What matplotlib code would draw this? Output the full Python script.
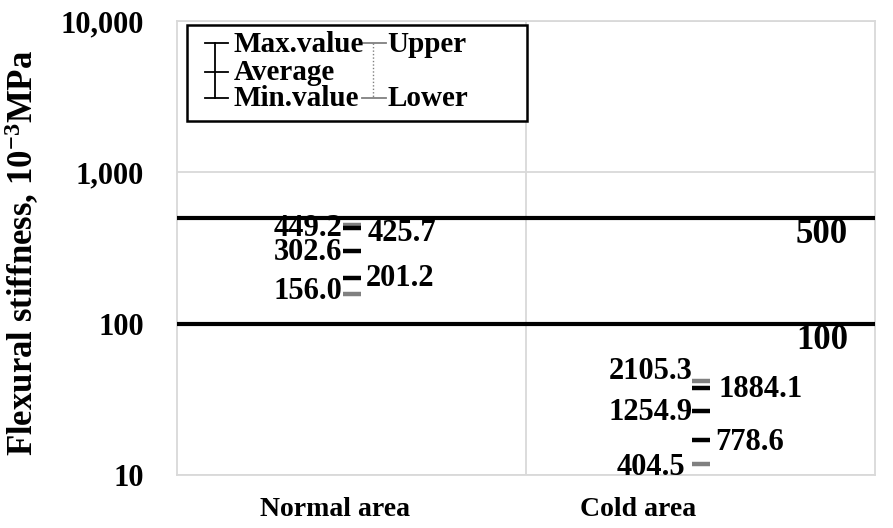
import matplotlib
matplotlib.use("Agg")
import matplotlib.pyplot as plt
from matplotlib.lines import Line2D
from matplotlib.patches import Rectangle
from matplotlib.ticker import FixedLocator, FuncFormatter, NullLocator

plt.rcParams['font.family'] = ['Liberation Serif', 'DejaVu Serif']
plt.rcParams['font.weight'] = 'bold'
plt.rcParams['mathtext.fontset'] = 'custom'
plt.rcParams['mathtext.rm'] = 'Liberation Serif:bold'
plt.rcParams['mathtext.it'] = 'Liberation Serif:bold'
plt.rcParams['mathtext.bf'] = 'Liberation Serif:bold'

# ---------------- data ----------------
categories = ['Normal area', 'Cold area']
# plotted positions (log axis)
upper_pos = [449.2, 41.8]
max_pos = [425.7, 37.7]
avg_pos = [302.6, 26.5]
min_pos = [201.2, 17.0]
lower_pos = [156.0, 11.9]
# printed labels
upper_lbl = ['449.2', '2105.3']
max_lbl = ['425.7', '1884.1']
avg_lbl = ['302.6', '1254.9']
min_lbl = ['201.2', '778.6']
lower_lbl = ['156.0', '404.5']
thresholds = [500, 100]
threshold_lbl = ['500', '100']
yticks = [10, 100, 1000, 10000]
ylabel = 'Flexural stiffness, 10$^{-3}$MPa'

W, H = 893, 528
fig = plt.figure(figsize=(W / 100, H / 100), dpi=100)
ax = fig.add_axes([177 / W, 1 - 475 / H, 698 / W, 454 / H])

ax.set_yscale('log')
ax.set_ylim(10, 10000)
ax.set_xlim(-0.5, 1.5)

grid_c = '#d9d9d9'
for s in ax.spines.values():
    s.set_color(grid_c)
    s.set_linewidth(1.3)
ax.yaxis.set_major_locator(FixedLocator(yticks))
ax.yaxis.set_minor_locator(NullLocator())
ax.yaxis.set_major_formatter(FuncFormatter(lambda v, p: f'{int(v):,}'))
ax.tick_params(axis='y', length=0, pad=24, labelsize=22)
ax.set_xticks([])
for t in ax.get_yticklabels():
    t.set_fontweight('bold')
ax.grid(axis='y', color=grid_c, linewidth=1.3)
ax.axvline(0.5, color=grid_c, linewidth=1.3)

# threshold lines
for th, tl in zip(thresholds, threshold_lbl):
    ax.axhline(th, color='black', linewidth=3, zorder=3)
    ax.annotate(tl, xy=(1.5, th), xycoords='data', xytext=(-53, -17),
                textcoords='offset pixels', ha='center', va='center',
                fontsize=25, fontweight='bold')

x = [0, 1]
gray = '#808080'
mk = dict(marker='_', markersize=13, markeredgewidth=3.2, linestyle='none', zorder=4)
ax.plot(x, upper_pos, color=gray, **mk)
ax.plot(x, lower_pos, color=gray, **mk)
ax.plot(x, max_pos, color='black', **mk)
ax.plot(x, avg_pos, color='black', **mk)
ax.plot(x, min_pos, color='black', **mk)

fs = 22
def lab(xv, yv, txt, dx, dy, ha):
    ax.annotate(txt, xy=(xv, yv), xycoords='data', xytext=(dx, -dy),
                textcoords='offset pixels', ha=ha, va='center',
                fontsize=fs, fontweight='bold', zorder=5)

# Normal area
lab(0, upper_pos[0], upper_lbl[0], -9, 4, 'right')
lab(0, max_pos[0], max_lbl[0], 16, 5, 'left')
lab(0, avg_pos[0], avg_lbl[0], -9, 2, 'right')
lab(0, min_pos[0], min_lbl[0], 14, 1, 'left')
lab(0, lower_pos[0], lower_lbl[0], -9, -3, 'right')
# Cold area
lab(1, upper_pos[1], upper_lbl[1], -8, -9, 'right')
lab(1, max_pos[1], max_lbl[1], 18, 2, 'left')
lab(1, avg_pos[1], avg_lbl[1], -8, 2, 'right')
lab(1, min_pos[1], min_lbl[1], 15, 2, 'left')
lab(1, lower_pos[1], lower_lbl[1], -15, 4, 'right')

# category labels
fig.text(335 / W, 1 - 509 / H, categories[0], ha='center', va='center', fontsize=20, fontweight='bold')
fig.text(638 / W, 1 - 509 / H, categories[1], ha='center', va='center', fontsize=20, fontweight='bold')

# y label
fig.text(22 / W, 1 - 253 / H, ylabel, rotation=90, ha='center', va='center',
         fontsize=25, fontweight='bold')

# custom legend
def fx(px):
    return px / W
def fy(py):
    return 1 - py / H

fig.patches.append(Rectangle((fx(187), fy(121)), fx(527) - fx(187), fy(25) - fy(121),
                             transform=fig.transFigure, fill=True, facecolor='white',
                             edgecolor='black', linewidth=1.8, zorder=10))
def fline(xs, ys, **kw):
    fig.add_artist(Line2D([fx(v) for v in xs], [fy(v) for v in ys],
                          transform=fig.transFigure, zorder=11, **kw))
fline([215, 215], [43, 98], color='black', linewidth=1.3)
for yy in (43, 72, 98):
    fline([205, 228], [yy, yy], color='black', linewidth=1.3)
fline([362, 386], [43, 43], color=gray, linewidth=1.3)
fline([362, 386], [98, 98], color=gray, linewidth=1.3)
fline([373, 373], [43, 98], color=gray, linewidth=1.0, linestyle=(0, (1, 1.5)))
for txt, xx, yy in (('Max.value', 234, 44), ('Average', 234, 72), ('Min.value', 234, 98),
                    ('Upper', 387, 44), ('Lower', 387, 98)):
    fig.text(fx(xx), fy(yy), txt, ha='left', va='center', fontsize=21,
             fontweight='bold', zorder=12)

fig.savefig('out.png', dpi=100)
